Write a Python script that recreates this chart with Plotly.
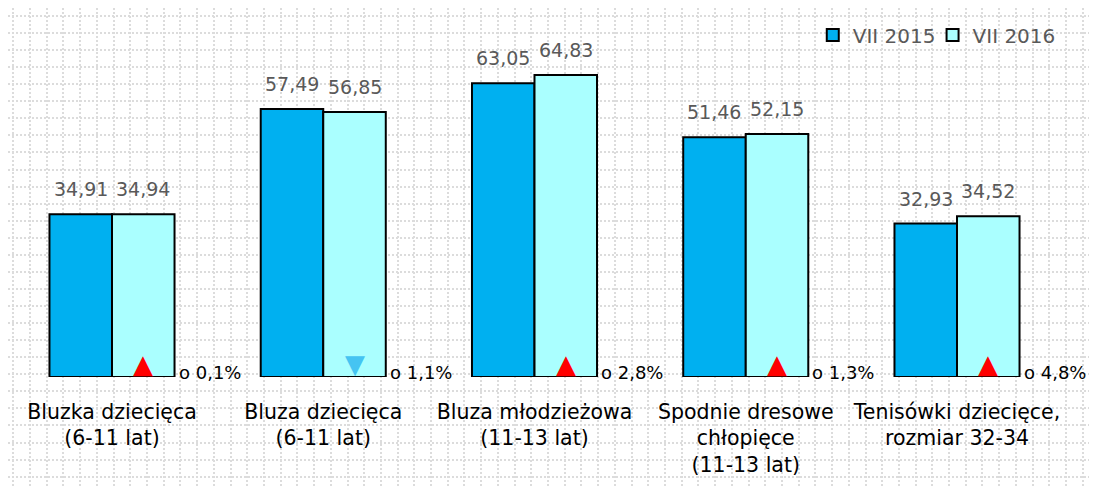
import plotly.graph_objects as go

categories = [
    "Bluzka dziecięca<br>(6-11 lat)",
    "Bluza dziecięca<br>(6-11 lat)",
    "Bluza młodzieżowa<br>(11-13 lat)",
    "Spodnie dresowe<br>chłopięce<br>(11-13 lat)",
    "Tenisówki dziecięce,<br>rozmiar 32-34",
]
prices_2015 = [34.91, 57.49, 63.05, 51.46, 32.93]
prices_2016 = [34.94, 56.85, 64.83, 52.15, 34.52]
change_pct = [0.1, 1.1, 2.8, 1.3, 4.8]

FONT = "DejaVu Sans"
# the page body keeps its default 8px margin, so the figure is a bit smaller
W, H = 1089, 479
BARGAP = 0.408
half = (1 - BARGAP) / 4  # offset of each bar's centre from the group centre

x = list(range(len(categories)))

fig = go.Figure()

# dotted background grid on a full-page helper axis (drawn below the bars)
fig.add_trace(go.Scatter(x=[None], y=[None], xaxis="x", yaxis="y",
                         showlegend=False, hoverinfo="skip"))

fig.add_trace(go.Bar(
    x=x, y=prices_2015, name="VII 2015", xaxis="x2", yaxis="y2", legend="legend",
    offsetgroup="a", marker=dict(color="#00b0f0", line=dict(color="#000000", width=2)),
))
fig.add_trace(go.Bar(
    x=x, y=prices_2016, name="VII 2016", xaxis="x2", yaxis="y2", legend="legend2",
    offsetgroup="b", marker=dict(color="#aaffff", line=dict(color="#000000", width=2)),
))

ann = []
for i in x:
    for val, dx in ((prices_2015[i], -half), (prices_2016[i], half)):
        ann.append(dict(x=i + dx, y=val, xref="x2", yref="y2", text=f"{val:.2f}".replace(".", ","),
                        showarrow=False, yanchor="bottom", yshift=12,
                        font=dict(family=FONT, size=19, color="#595959")))
    up = prices_2016[i] >= prices_2015[i]
    ann.append(dict(x=i + half, y=0, xref="x2", yref="y2", text="▲" if up else "▼",
                    showarrow=False, yanchor="bottom", yshift=-4,
                    font=dict(family="DejaVu Sans", size=26, color="#ff0000" if up else "#45c4f2")))
    ann.append(dict(x=i + 2 * half, y=0, xref="x2", yref="y2",
                    text=f"o {change_pct[i]:.1f}%".replace(".", ","),
                    showarrow=False, xanchor="left", yanchor="middle", xshift=2, yshift=5,
                    font=dict(family=FONT, size=18, color="#000000")))

legend_style = dict(orientation="h", y=0.9436, xanchor="left", yanchor="middle",
                    bgcolor="rgba(255,255,255,0)",
                    font=dict(family=FONT, size=20, color="#595959"))

fig.update_layout(
    width=W, height=H,
    margin=dict(l=0, r=0, t=0, b=0),
    paper_bgcolor="white", plot_bgcolor="rgba(0,0,0,0)",
    barmode="group", bargap=BARGAP, bargroupgap=0,
    font=dict(family=FONT),
    xaxis=dict(domain=[0, 1], range=[0, W], tick0=5.3, dtick=16.71,
               showgrid=True, gridcolor="#dcdcdc", griddash="2px,2px", gridwidth=1.5,
               showticklabels=False, zeroline=False, showline=False, fixedrange=True,
               automargin=False),
    yaxis=dict(domain=[0, 1], range=[H, 0], tick0=8, dtick=17.06,
               showgrid=True, gridcolor="#dcdcdc", griddash="2px,2px", gridwidth=1.5,
               showticklabels=False, zeroline=False, showline=False, fixedrange=True,
               automargin=False),
    xaxis2=dict(domain=[0, 1], anchor="y2", range=[-0.4923, 4.6627],
                tickmode="array", tickvals=x, ticktext=categories,
                tickfont=dict(family=FONT, size=20.5, color="#000000"),
                ticks="", ticklabelstandoff=20, automargin=False,
                showgrid=False, zeroline=False, showline=False),
    yaxis2=dict(domain=[0.2296, 0.9593], anchor="x2", range=[0, 75], automargin=False,
                showgrid=False, zeroline=False, showline=False, showticklabels=False),
    legend=dict(x=0.739, **legend_style),
    legend2=dict(x=0.849, **legend_style),
    annotations=ann,
)

fig.write_html("out.html")
